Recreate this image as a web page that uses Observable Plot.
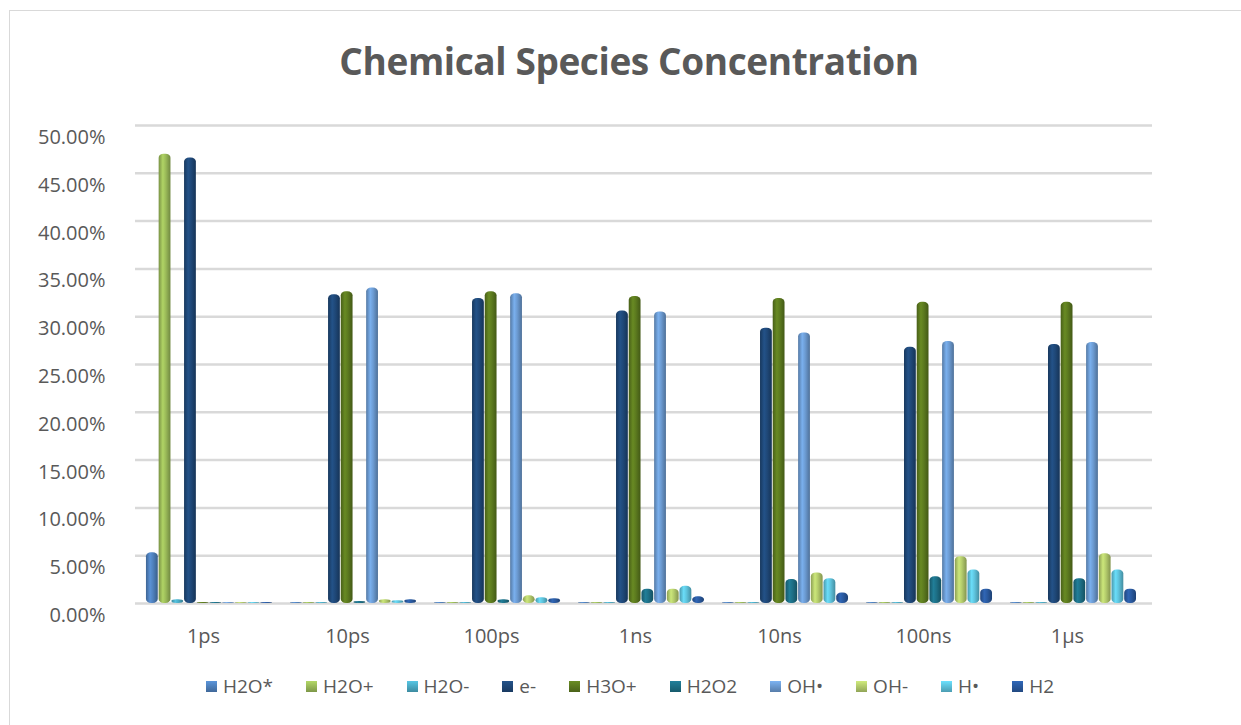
<!DOCTYPE html>
<html>
<head>
<meta charset="utf-8">
<script src="https://cdn.jsdelivr.net/npm/d3@7"></script>
<script src="https://cdn.jsdelivr.net/npm/@observablehq/plot@0.6"></script>
<style>
  html, body { margin: 0; padding: 0; background: #fff; width: 1241px; height: 725px; overflow: hidden; font-family: "Open Sans", sans-serif; }
  #frame { position: absolute; left: 9px; top: 10px; width: 1250px; height: 730px; border: 1px solid #d9d9d9; box-sizing: border-box; }
  #title { position: absolute; left: 0; width: 1258px; top: 35px; text-align: center; font-size: 37px; font-weight: 700; color: #595959; letter-spacing: -0.4px; }
  #chart { position: absolute; left: 0; top: 100px; }
  #legend { position: absolute; left: 0; width: 1260px; top: 673px; display: flex; justify-content: center; gap: 33px; font-size: 19px; color: #595959; }
  .item { display: flex; align-items: center; gap: 6px; }
  .sw { width: 11px; height: 11px; display: inline-block; }
</style>
</head>
<body>
<div id="frame"></div>
<div id="title">Chemical Species Concentration</div>
<div id="chart"></div>
<div id="legend"></div>
<script>
// ---- data (percent) ----
const times = ["1ps", "10ps", "100ps", "1ns", "10ns", "100ns", "1μs"];
const species = ["H2O*", "H2O+", "H2O-", "e-", "H3O+", "H2O2", "OH•", "OH-", "H•", "H2"];
const colors = ["#4f81bd", "#9bbb59", "#4bacc6", "#1f4878", "#5c7a1f", "#1d6f86", "#6c9bd2", "#b4cc6c", "#5ec3dc", "#2a5aa0"];
const yTicks = [0, 5, 10, 15, 20, 25, 30, 35, 40, 45, 50];

const h2oStar = [5.3, 0.1, 0.1, 0.1, 0.1, 0.1, 0.1];
const h2oPlus = [47.0, 0.1, 0.1, 0.1, 0.1, 0.1, 0.1];
const h2oMinus = [0.4, 0.1, 0.1, 0.1, 0.1, 0.1, 0.1];
const eMinus = [46.6, 32.3, 31.9, 30.6, 28.8, 26.8, 27.1];
const h3oPlus = [0.1, 32.6, 32.6, 32.1, 31.9, 31.5, 31.5];
const h2o2 = [0.1, 0.2, 0.4, 1.5, 2.5, 2.8, 2.6];
const ohRad = [0.1, 33.0, 32.4, 30.5, 28.3, 27.4, 27.3];
const ohMinus = [0.1, 0.4, 0.8, 1.5, 3.2, 4.9, 5.2];
const hRad = [0.1, 0.3, 0.6, 1.8, 2.6, 3.5, 3.5];
const h2 = [0.1, 0.4, 0.5, 0.7, 1.1, 1.5, 1.5];

const seriesValues = [h2oStar, h2oPlus, h2oMinus, eMinus, h3oPlus, h2o2, ohRad, ohMinus, hRad, h2];

const rows = [];
times.forEach((t, i) => species.forEach((s, j) => rows.push({ t: i, s: j, v: seriesValues[j][i], c: colors[j] })));

const step = 0.0882;   // bar slot within a group (in group units)
const bw = 0.082;      // bar width

const plot = Plot.plot({
  width: 1241,
  height: 570,
  marginLeft: 135,
  marginRight: 89,
  marginTop: 25,
  marginBottom: 67,
  style: { fontFamily: "Open Sans, sans-serif", fontSize: "20px", color: "#595959", background: "transparent" },
  x: { domain: [-0.514, 6.549], ticks: d3.range(times.length), tickFormat: i => times[i], tickSize: 0, tickPadding: 25, label: null },
  y: { domain: [0, 50], ticks: yTicks, tickFormat: d => d.toFixed(2) + "%", tickSize: 0, tickPadding: 30, label: null },
  color: { type: "identity" },
  marks: [
    Plot.ruleY(yTicks, { stroke: "#d9d9d9", strokeWidth: 2.5 }),
    Plot.rect(rows, {
      x1: d => d.t + (d.s - 4.5) * step - bw / 2,
      x2: d => d.t + (d.s - 4.5) * step + bw / 2,
      y1: d => 0,
      y2: "v",
      fill: "c",
      rx: 5,
      ry: 4
    })
  ]
});

// cylinder-like shading via gradients
const ns = "http://www.w3.org/2000/svg";
const defs = document.createElementNS(ns, "defs");
colors.forEach((c, j) => {
  const g = document.createElementNS(ns, "linearGradient");
  g.setAttribute("id", "grad" + j);
  g.setAttribute("x1", "0"); g.setAttribute("x2", "1"); g.setAttribute("y1", "0"); g.setAttribute("y2", "0");
  const base = d3.color(c);
  [[0, base.darker(0.7)], [0.35, base.brighter(0.35)], [0.6, base], [1, base.darker(0.9)]].forEach(([o, col]) => {
    const st = document.createElementNS(ns, "stop");
    st.setAttribute("offset", o);
    st.setAttribute("stop-color", col.formatHex());
    g.appendChild(st);
  });
  defs.appendChild(g);
});
plot.insertBefore(defs, plot.firstChild);
const colorIndex = new Map(colors.map((c, j) => [c.toLowerCase(), j]));
plot.querySelectorAll("rect[fill]").forEach(r => {
  const j = colorIndex.get((r.getAttribute("fill") || "").toLowerCase());
  if (j !== undefined) r.setAttribute("fill", `url(#grad${j})`);
});
// shift x tick labels slightly left (3D depth offset in original)
plot.querySelectorAll("[aria-label='x-axis tick label'] text").forEach(t => t.setAttribute("dx", "-6"));
plot.querySelectorAll("[aria-label='y-axis tick label'] text").forEach(t => t.setAttribute("dy", "0.6em"));

document.getElementById("chart").appendChild(plot);

// legend
const legend = document.getElementById("legend");
species.forEach((s, j) => {
  const item = document.createElement("div");
  item.className = "item";
  const sw = document.createElement("span");
  sw.className = "sw";
  const base = d3.color(colors[j]);
  sw.style.background = `linear-gradient(to bottom, ${base.brighter(0.4).formatHex()}, ${base.darker(0.6).formatHex()})`;
  const lab = document.createElement("span");
  lab.textContent = s;
  item.appendChild(sw);
  item.appendChild(lab);
  legend.appendChild(item);
});
</script>
</body>
</html>
